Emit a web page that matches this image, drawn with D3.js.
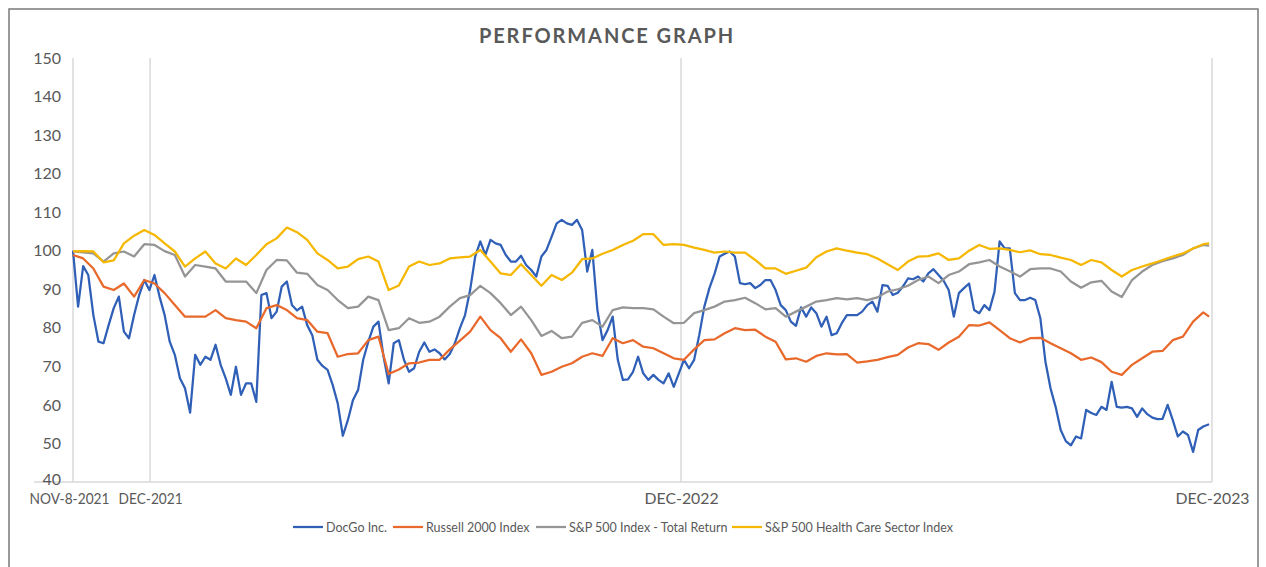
<!DOCTYPE html>
<html>
<head>
<meta charset="utf-8">
<script src="https://cdn.jsdelivr.net/npm/d3@7"></script>
<style>
  body { margin: 0; background: #fff; }
  svg { display: block; font-family: Lato, "Open Sans", sans-serif; }
</style>
</head>
<body>
<svg id="chart" width="1266" height="567"></svg>
<script>
// DocGo is read twice a week, the indices once a week, all ending Dec 29 2023
const startDate = new Date(2021, 10, 8);
const endDate = new Date(2023, 11, 29);

const docgo = [
  100.0, 85.5, 96.0, 93.7, 83.3, 76.4, 76.0, 80.7, 85.1, 88.1,
  79.0, 77.3, 83.3, 88.5, 92.4, 89.8, 93.7, 88.1, 83.3, 76.4,
  73.0, 66.9, 64.3, 58.0, 73.0, 70.4, 72.5, 71.7, 75.6, 70.4,
  66.9, 62.6, 69.9, 62.6, 65.6, 65.6, 60.8, 88.5, 89.0, 82.5,
  84.2, 90.7, 92.0, 85.9, 84.5, 85.5, 80.7, 78.1, 71.7, 70.1,
  69.1, 65.2, 60.4, 52.0, 56.1, 61.3, 63.9, 71.7, 76.4, 80.3,
  81.6, 72.5, 65.6, 76.0, 76.8, 71.7, 68.6, 69.5, 73.8, 76.2,
  73.8, 74.4, 73.4, 71.8, 73.2, 76.0, 79.9, 83.3, 89.8, 98.5,
  102.4, 98.9, 102.8, 101.9, 101.5, 98.9, 97.2, 97.2, 98.7, 96.3,
  95.0, 93.3, 98.5, 100.2, 103.6, 107.1, 108.0, 107.1, 106.7, 108.0,
  105.4, 94.6, 100.2, 84.6, 76.8, 79.4, 82.9, 71.7, 66.5, 66.6,
  68.6, 72.5, 68.2, 66.5, 67.8, 66.5, 65.6, 68.2, 64.7, 68.2,
  71.7, 69.5, 71.7, 78.1, 85.5, 90.3, 94.0, 98.5, 99.2, 99.8,
  98.5, 91.6, 91.3, 91.6, 90.3, 91.1, 92.4, 92.4, 89.8, 85.9,
  84.6, 81.6, 80.5, 85.3, 82.9, 85.3, 83.8, 80.3, 82.9, 78.1,
  78.6, 81.2, 83.3, 83.3, 83.3, 84.2, 85.9, 86.8, 84.2, 91.1,
  90.9, 88.5, 89.1, 90.7, 92.8, 92.6, 93.3, 92.0, 94.1, 95.2,
  93.7, 92.2, 89.8, 82.9, 89.0, 90.3, 91.5, 84.6, 83.8, 85.9,
  84.6, 89.4, 102.4, 100.6, 100.6, 89.0, 87.2, 87.2, 87.8, 87.2,
  82.5, 71.2, 64.3, 59.5, 53.5, 50.6, 49.5, 51.8, 51.3, 58.7,
  57.9, 57.4, 59.5, 58.7, 66.0, 59.5, 59.3, 59.5, 59.1, 56.9,
  59.1, 57.6, 56.7, 56.3, 56.4, 60.0, 56.1, 51.8, 53.1, 52.2,
  47.8, 53.5, 54.4, 55.0
];

const russell = [
  98.9, 98.0, 95.4, 90.7, 89.8, 91.5, 88.1, 92.4, 91.5, 89.0,
  85.9, 82.9, 82.9, 82.9, 84.6, 82.5, 82.0, 81.6, 79.9, 85.1,
  85.9, 84.6, 82.5, 82.0, 79.0, 78.6, 72.5, 73.2, 73.4, 76.8,
  77.7, 68.0, 69.2, 70.8, 71.0, 71.7, 71.7, 74.4, 76.7, 79.0,
  82.9, 79.4, 77.3, 73.8, 77.0, 73.4, 67.8, 68.6, 69.9, 70.8,
  72.5, 73.4, 72.7, 77.3, 76.0, 76.8, 75.1, 74.7, 73.4, 72.1,
  71.7, 74.4, 76.8, 77.0, 78.6, 79.9, 79.4, 79.5, 77.7, 76.4,
  71.8, 72.1, 71.2, 72.7, 73.4, 73.1, 73.2, 71.0, 71.3, 71.7,
  72.4, 73.0, 74.9, 76.0, 75.8, 74.3, 76.2, 77.7, 80.7, 80.6,
  81.4, 79.4, 77.3, 76.2, 77.3, 77.4, 76.0, 74.7, 73.4, 71.7,
  72.3, 71.1, 68.6, 67.8, 70.4, 72.1, 73.8, 74.0, 76.8, 77.7,
  81.6, 84.0, 82.9
];

const sp500 = [
  99.8, 99.6, 99.3, 97.2, 99.3, 99.8, 98.5, 101.7, 101.5, 99.9,
  98.9, 93.3, 96.3, 95.9, 95.4, 92.0, 92.0, 92.0, 89.0, 95.0,
  97.6, 97.5, 94.3, 94.0, 91.1, 89.8, 87.2, 85.1, 85.5, 88.1,
  87.2, 79.4, 79.9, 82.5, 81.3, 81.6, 82.9, 85.5, 87.7, 88.5,
  90.9, 89.0, 86.4, 83.3, 85.5, 82.0, 77.9, 79.2, 77.3, 77.7,
  81.3, 82.0, 80.3, 84.6, 85.3, 85.1, 85.1, 84.8, 82.9, 81.2,
  81.3, 83.8, 84.6, 85.5, 86.8, 87.2, 87.8, 86.4, 84.8, 85.1,
  82.9, 84.2, 85.5, 86.8, 87.2, 87.7, 87.4, 87.7, 87.2, 87.9,
  89.4, 90.0, 90.9, 92.4, 93.3, 91.6, 93.7, 94.6, 96.5, 97.0,
  97.6, 95.9, 94.7, 93.3, 95.2, 95.4, 95.4, 94.6, 92.0, 90.4,
  91.8, 92.2, 89.4, 88.0, 92.4, 94.6, 96.3, 97.3, 98.0, 98.9,
  100.6, 101.5, 101.3
];

const healthCare = [
  99.8, 99.9, 99.8, 97.0, 97.5, 101.9, 103.9, 105.4, 104.1, 101.9,
  99.8, 95.9, 98.0, 99.8, 96.7, 95.4, 98.0, 96.3, 98.9, 101.7,
  103.2, 106.0, 104.8, 102.8, 99.3, 97.6, 95.4, 95.9, 97.8, 98.5,
  97.2, 89.8, 91.0, 95.9, 97.2, 96.3, 96.7, 98.0, 98.3, 98.5,
  100.2, 97.2, 94.1, 93.7, 96.5, 93.7, 90.9, 93.7, 92.4, 94.3,
  97.8, 98.0, 99.2, 100.2, 101.5, 102.6, 104.3, 104.3, 101.5, 101.7,
  101.5, 100.8, 100.2, 99.5, 99.8, 99.5, 99.5, 97.6, 95.4, 95.4,
  94.0, 94.8, 95.6, 98.3, 99.8, 100.6, 100.0, 99.5, 99.1, 98.0,
  96.5, 95.0, 97.2, 98.5, 98.6, 99.3, 97.6, 98.0, 100.0, 101.5,
  100.5, 100.6, 100.2, 99.6, 100.1, 99.1, 98.9, 98.2, 97.6, 96.3,
  97.6, 97.0, 95.0, 93.3, 95.0, 95.9, 96.7, 97.6, 98.5, 99.3,
  100.6, 101.7, 101.9
];

const seriesNames = ['DocGo Inc.', 'Russell 2000 Index', 'S&P 500 Index - Total Return', 'S&P 500 Health Care Sector Index'];
const seriesColors = ['#2f5fb6', '#e8692b', '#959595', '#f5b700'];
const yTicks = [40, 50, 60, 70, 80, 90, 100, 110, 120, 130, 140, 150];
const xTickDates = [new Date(2021, 10, 8), new Date(2021, 11, 31), new Date(2022, 11, 31), new Date(2023, 11, 31)];
const xTickLabels = ['NOV-8-2021', 'DEC-2021', 'DEC-2022', 'DEC-2023'];

// date grids: every 3.5 days for DocGo, weekly for the indices, last point Dec 29
function dateGrid(n, stepDays) {
  const out = [];
  for (let k = 0; k < n - 1; k++) out.push(new Date(startDate.getTime() + k * stepDays * 864e5));
  out.push(endDate);
  return out;
}
const halfWeekDates = dateGrid(docgo.length, 3.5);
const weekDates = dateGrid(russell.length, 7);

const seriesValues = [docgo, russell, sp500, healthCare];
const seriesDates = [halfWeekDates, weekDates, weekDates, weekDates];

const svg = d3.select('#chart');
const textColor = '#595959';

// outer frame
svg.append('rect')
  .attr('x', 9).attr('y', 9)
  .attr('width', 1249).attr('height', 620)
  .attr('fill', 'none')
  .attr('stroke', '#7a7a7a')
  .attr('stroke-width', 1.5);

const plotLeft = 73, plotRight = 1212, plotTop = 58, plotBottom = 482;

const x = d3.scaleTime()
  .domain([new Date(2021, 10, 8), new Date(2023, 11, 31)])
  .range([plotLeft, plotRight]);

const y = d3.scaleLinear()
  .domain([40, 150])
  .range([plotBottom, plotTop]);

// vertical gridlines at the labelled dates
svg.append('g')
  .selectAll('line')
  .data(xTickDates)
  .join('line')
  .attr('x1', d => x(d)).attr('x2', d => x(d))
  .attr('y1', plotTop).attr('y2', plotBottom)
  .attr('stroke', '#d9d9d9')
  .attr('stroke-width', 1.5);

// baseline
svg.append('line')
  .attr('x1', 34).attr('x2', plotRight)
  .attr('y1', y(40)).attr('y2', y(40))
  .attr('stroke', '#d9d9d9')
  .attr('stroke-width', 1.5);

// y axis labels
const yAxis = svg.append('g')
  .attr('transform', `translate(${plotLeft},0)`)
  .call(d3.axisLeft(y).tickValues(yTicks).tickSize(0).tickPadding(12));
yAxis.select('.domain').remove();
yAxis.selectAll('text')
  .attr('fill', textColor)
  .style('font-size', '16px')
  .style('font-family', 'Lato, sans-serif');
// lift the bottom label a touch so it clears the first date label
yAxis.selectAll('.tick').filter(d => d === 40)
  .select('text').attr('y', -2.5);

// x axis labels, squeezed to the widths seen in the reference
const xLabelWidths = [80, 64, 74, 74];
const xLabelShift = [-4, 0, 0, 0];
const xAxis = svg.append('g')
  .attr('transform', `translate(0,${plotBottom})`)
  .call(d3.axisBottom(x).tickValues(xTickDates).tickSize(0).tickPadding(11)
    .tickFormat((d, i) => xTickLabels[i]));
xAxis.select('.domain').remove();
xAxis.selectAll('text')
  .attr('fill', textColor)
  .attr('dx', (d, i) => xLabelShift[i])
  .attr('textLength', (d, i) => xLabelWidths[i])
  .attr('lengthAdjust', 'spacingAndGlyphs')
  .style('font-size', '15px')
  .style('font-family', 'Lato, sans-serif');

// lines
const line = d3.line()
  .x(d => x(d[0]))
  .y(d => y(d[1]));

svg.append('g')
  .selectAll('path')
  .data(seriesValues.map((vals, s) => vals.map((v, k) => [seriesDates[s][k], v])))
  .join('path')
  .attr('d', line)
  .attr('fill', 'none')
  .attr('stroke', (d, i) => seriesColors[i])
  .attr('stroke-width', 2.25)
  .attr('stroke-linejoin', 'round');

// title
svg.append('text')
  .attr('x', 607).attr('y', 43)
  .attr('text-anchor', 'middle')
  .attr('fill', textColor)
  .style('font-size', '20px')
  .style('font-weight', 'bold')
  .style('letter-spacing', '1.9px')
  .text('PERFORMANCE GRAPH');

// legend
const legendX = [293, 393, 536, 732];
const legend = svg.append('g');
seriesNames.forEach((name, i) => {
  const g = legend.append('g').attr('transform', `translate(${legendX[i]},527)`);
  g.append('line')
    .attr('x1', 0).attr('x2', 30)
    .attr('stroke', seriesColors[i])
    .attr('stroke-width', 2.25);
  g.append('text')
    .attr('x', 33).attr('y', 4.5)
    .attr('fill', textColor)
    .style('font-size', '12.5px')
    .text(name);
});
</script>
</body>
</html>
